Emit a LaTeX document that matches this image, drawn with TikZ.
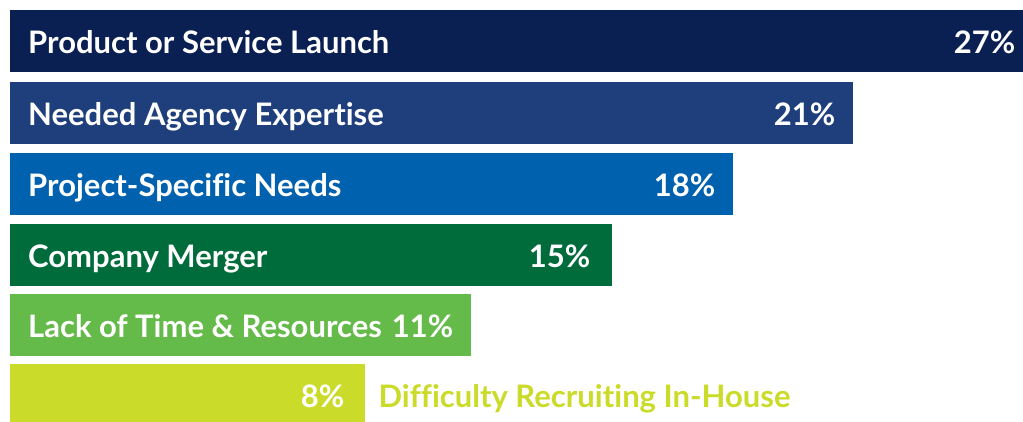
\documentclass[tikz,border=0pt]{standalone}
\usepackage{fontspec}
\setmainfont[Ligatures={NoCommon}]{Lato}
\definecolor{cA}{HTML}{0A1F52}
\definecolor{cB}{HTML}{1E3F7C}
\definecolor{cC}{HTML}{0061AE}
\definecolor{cD}{HTML}{006C3C}
\definecolor{cE}{HTML}{65BB4A}
\definecolor{cF}{HTML}{CBDB2A}
\begin{document}
\begin{tikzpicture}[x=1pt,y=-1pt,
  bar/.style={draw=none,minimum height=62pt,inner sep=0pt,anchor=north west},
  lbl/.style={text=white,font=\fontsize{31}{32}\selectfont\bfseries,inner sep=0pt,anchor=base west},
  pct/.style={text=white,font=\fontsize{31}{32}\selectfont\bfseries,inner sep=0pt,anchor=base east}]
\useasboundingbox (0,0) rectangle (1023,422);
\fill[white] (0,0) rectangle (1023,422);
\node[bar,fill=cA,minimum width=1013pt] (b1) at (10,10) {};
\node[bar,fill=cB,minimum width=843pt] (b2) at (10,81.5) {};
\node[bar,fill=cC,minimum width=723pt] (b3) at (10,152.5) {};
\node[bar,fill=cD,minimum width=602pt] (b4) at (10,223.5) {};
\node[bar,fill=cE,minimum width=461pt] (b5) at (10,294) {};
\node[bar,fill=cF,minimum width=355pt,minimum height=60pt] (b6) at (10,364) {};
\node[lbl] (t1) at ([xshift=18pt,yshift=-12.5pt]b1.west) {Product or Service Launch};
\node[lbl] (t2) at ([xshift=18pt,yshift=-12.5pt]b2.west) {Needed Agency Expertise};
\node[lbl] (t3) at ([xshift=18pt,yshift=-12.5pt]b3.west) {Project-Specific Needs};
\node[lbl] (t4) at ([xshift=18pt,yshift=-12.5pt]b4.west) {Company Merger};
\node[lbl] (t5) at ([xshift=18pt,yshift=-12.5pt]b5.west) {Lack of Time \& Resources};
\node[pct] (p1) at ([xshift=-8pt,yshift=-12.5pt]b1.east) {27\%};
\node[pct] (p2) at ([xshift=-18pt,yshift=-12.5pt]b2.east) {21\%};
\node[pct] (p3) at ([xshift=-18pt,yshift=-12.5pt]b3.east) {18\%};
\node[pct] (p4) at ([xshift=-22pt,yshift=-12.5pt]b4.east) {15\%};
\node[pct] (p5) at ([xshift=-18pt,yshift=-12.5pt]b5.east) {11\%};
\node[pct] (p6) at ([xshift=-21pt,yshift=-13.5pt]b6.east) {8\%};
\node[lbl,text=cF] (t6) at ([xshift=13pt,yshift=-13.5pt]b6.east) {Difficulty Recruiting In-House};
\end{tikzpicture}
\end{document}
